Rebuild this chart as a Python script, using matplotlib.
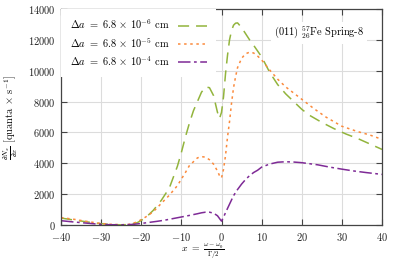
import matplotlib
matplotlib.use("Agg")
import matplotlib.pyplot as plt

# data
x_a = [-40, -37, -34, -31, -28, -25, -23, -21, -19, -17, -15, -13, -11, -10, -9, -8,
       -7, -6, -5, -4, -3, -2, -1, -0.5, 0, 0.5, 1, 1.5, 2, 2.5, 3, 3.5, 4, 5, 6, 7,
       8, 10, 12, 14, 16, 18, 20, 22, 25, 28, 31, 34, 37, 40]
y_a = [450, 330, 220, 110, 40, 10, 30, 150, 450, 950, 1600, 2400, 3800, 4700, 5700, 6600,
       7400, 8000, 8600, 8950, 8900, 8400, 7300, 6900, 7300, 8300, 9800, 11000, 12000, 12600, 12950, 13080, 13100, 12800, 12400, 12000,
       11650, 10900, 9900, 9100, 8500, 8000, 7500, 7100, 6650, 6250, 5900, 5600, 5250, 4900]

x_b = [-40, -37, -34, -31, -28, -25, -23, -21, -19, -17, -15, -13, -11, -9, -8, -7,
       -6, -5, -4, -3, -2, -1, -0.5, 0, 0.5, 1, 1.5, 2, 2.5, 3, 3.5, 4, 5, 6, 7, 8,
       9, 10, 12, 14, 16, 18, 20, 23, 26, 30, 34, 37, 40]
y_b = [480, 380, 250, 130, 50, 15, 40, 200, 500, 860, 1400, 1930, 2550, 3400, 3850, 4100,
       4350, 4430, 4400, 4230, 3950, 3500, 3200, 3050, 3600, 4500, 5700, 6700, 7900, 8900, 9600, 10200, 10800, 11100, 11200, 11150,
       10950, 10700, 10050, 9450, 8950, 8550, 8150, 7550, 7000, 6400, 6050, 5830, 5550]

x_c = [-40, -37, -34, -31, -28, -25, -22, -20, -18, -16, -14, -12, -10, -8, -6, -5,
       -4, -3, -2, -1, -0.3, 0, 0.5, 1, 2, 3, 4, 5, 6, 7, 8, 9, 10, 12, 14, 16,
       18, 20, 22, 24, 27, 30, 33, 36, 40]
y_c = [280, 200, 130, 60, 20, 10, 40, 100, 170, 240, 320, 420, 520, 620, 730, 790,
       830, 830, 770, 600, 350, 250, 500, 800, 1350, 1900, 2300, 2650, 2950, 3200, 3400, 3550, 3750, 3950, 4070, 4100,
       4080, 4040, 3970, 3900, 3750, 3620, 3500, 3400, 3280]

labels = [r"$\Delta a\ =\ 6.8\,\times\,10^{-6}$ cm",
          r"$\Delta a\ =\ 6.8\,\times\,10^{-5}$ cm",
          r"$\Delta a\ =\ 6.8\,\times\,10^{-4}$ cm"]
colors = ["#92b43c", "#fb8a3c", "#7e2a96"]

plt.rcParams["mathtext.fontset"] = "cm"
plt.rcParams["font.family"] = "serif"
plt.rcParams["font.serif"] = ["cmr10", "DejaVu Serif"]
plt.rcParams["axes.formatter.use_mathtext"] = True
plt.rcParams["font.size"] = 7.5
plt.rcParams["lines.scale_dashes"] = False

fig = plt.figure(figsize=(3.99, 2.6), dpi=100)
ax = fig.add_axes([61 / 399, 35 / 260, 321 / 399, 216 / 260])

ax.plot(x_a, y_a, color=colors[0], lw=1.1, ls=(0, (8, 5)), label=labels[0])
ax.plot(x_b, y_b, color=colors[1], lw=1.1, ls=(0, (1.8, 2.6)), label=labels[1])
ax.plot(x_c, y_c, color=colors[2], lw=1.1, ls=(0, (9, 2.5, 2, 2.5)), label=labels[2])

ax.set_xlim(-40, 40)
ax.set_ylim(0, 14000)
ax.set_xticks(range(-40, 41, 10))
ax.set_yticks(range(0, 14001, 2000))
ax.grid(True, color="#dcdcdc", lw=0.8)
ax.set_axisbelow(True)
ax.tick_params(direction="in", top=True, right=True, length=4, colors="#444444",
               labelcolor="#222222", pad=4)
for s in ax.spines.values():
    s.set_color("#444444")
    s.set_linewidth(0.9)

ax.set_xlabel(r"$x\ =\ \frac{\omega - \omega_0}{\Gamma/2}$", fontsize=7)
ax.xaxis.set_label_coords(0.44, -0.08)
ax.set_ylabel(r"$\frac{\partial N_x}{\partial x}$ [quanta $\times$ s$^{-1}$]", labelpad=6)

leg = ax.legend(loc="upper left", bbox_to_anchor=(0, 1), borderaxespad=0,
                markerfirst=False, handlelength=2.8, labelspacing=0.45,
                frameon=True, fancybox=False, framealpha=1, edgecolor="none",
                borderpad=0.85, handletextpad=0.8)

ax.text(0.805, 0.89, r"(011) ${}^{57}_{26}$Fe Spring-8", transform=ax.transAxes,
        ha="center", va="center",
        bbox=dict(facecolor="white", edgecolor="none", pad=2))

fig.savefig("out.png", dpi=100)
